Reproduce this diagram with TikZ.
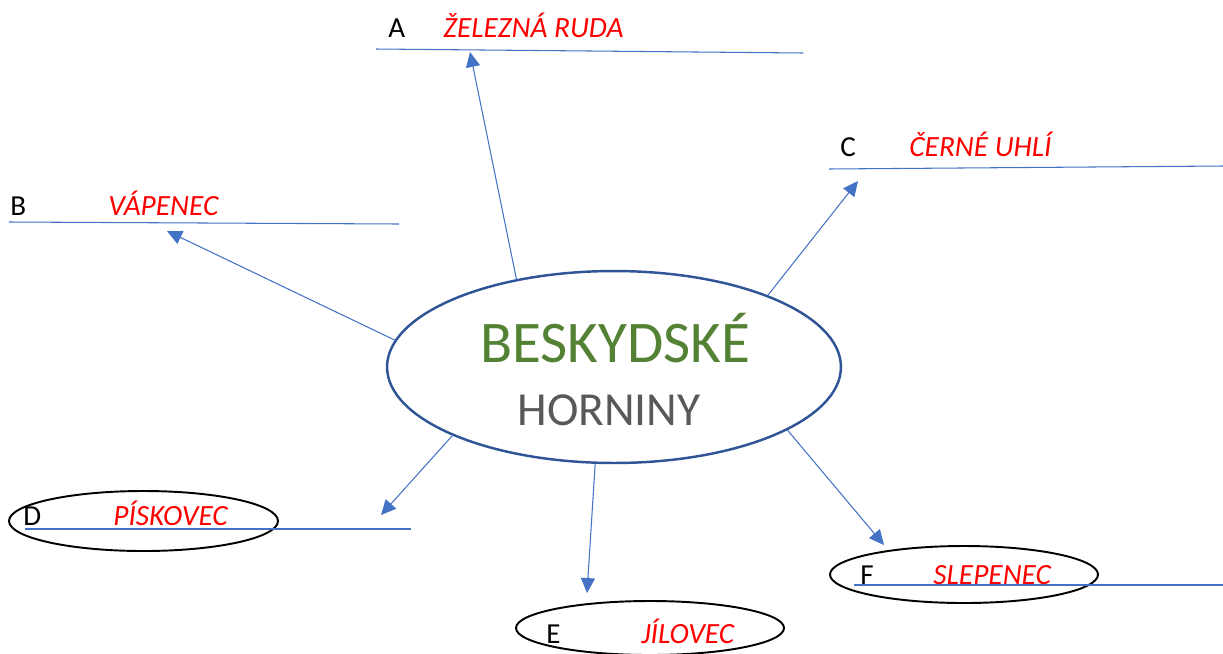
\documentclass[tikz,border=0pt]{standalone}
\usepackage{fontspec}
\setmainfont{Carlito}
\usetikzlibrary{arrows.meta,shapes.geometric}
\definecolor{linkblue}{HTML}{4472C4}
\definecolor{rimblue}{HTML}{2F5597}
\definecolor{leafgreen}{HTML}{548235}
\definecolor{darkgray}{HTML}{595959}
\tikzset{
  link/.style={draw=linkblue, line width=0.6pt, -{Triangle[length=8.5pt, width=8pt]}},
  rule/.style={draw=linkblue, line width=0.6pt},
  letter/.style={anchor=base west, inner sep=0pt, font=\fontsize{16.5}{20}\selectfont},
  rock/.style={anchor=base west, inner sep=0pt, text=red, font=\fontsize{16.7}{20}\selectfont\itshape},
  ring/.style={draw=black, line width=1.1pt}
}
\begin{document}
\begin{tikzpicture}[x=0.02cm, y=-0.02cm]
\useasboundingbox (0,0) rectangle (1223,653);
% central node
\node[ellipse, draw=rimblue, line width=1.4pt, minimum width=9.08cm, minimum height=3.84cm, inner sep=0pt] (rocks) at (614,367) {};
\node[anchor=base, inner sep=0pt, text=leafgreen, font=\fontsize{33.6}{40}\selectfont] (title) at (615,362) {BESKYDSKÉ};
\node[anchor=base, inner sep=0pt, text=darkgray, font=\fontsize{27}{30}\selectfont] (subtitle) at (609,425) {HORNINY};
% circled answers
\draw[ring] (143.5,521) ellipse [x radius=134.5, y radius=30];
\draw[ring] (650,628) ellipse [x radius=134, y radius=27];
\draw[ring] (964,574.5) ellipse [x radius=134, y radius=28.5];
% answer lines
\draw[rule] (376,49) -- (803,53);
\draw[rule] (9,222) -- (399,224);
\draw[rule] (829,169) -- (1223,166);
\draw[rule] (25,529) -- (411,529);
\draw[rule] (854,585) -- (1223,585);
% labels
\node[letter] (la) at (388,37) {A};
\node[rock] (ra) at (443,37) {ŽELEZNÁ RUDA};
\node[letter] (lb) at (10,215) {B};
\node[rock] (rb) at (108,215) {VÁPENEC};
\node[letter] (lc) at (840,156) {C};
\node[rock] (rc) at (909,156) {ČERNÉ UHLÍ};
\node[letter] (ld) at (23,525) {D};
\node[rock] (rd) at (113,525) {PÍSKOVEC};
\node[letter] (le) at (546,643) {E};
\node[rock] (re) at (641,643) {JÍLOVEC};
\node[letter] (lf) at (860,584) {F};
\node[rock] (rf) at (933,584) {SLEPENEC};
% arrow tips
\coordinate (ta) at (470,52);
\coordinate (tb) at (167,231);
\coordinate (tc) at (858,181);
\coordinate (td) at (381,515);
\coordinate (te) at (587,593);
\coordinate (tf) at (884,545);
\draw[link] (rocks.138) -- (ta);
\draw[link] (rocks.173) -- (tb);
\draw[link] (rocks.25) -- (tc);
\draw[link] (rocks.203) -- (td);
\draw[link] (rocks.259) -- (te);
\draw[link] (rocks.340) -- (tf);
\end{tikzpicture}
\end{document}
